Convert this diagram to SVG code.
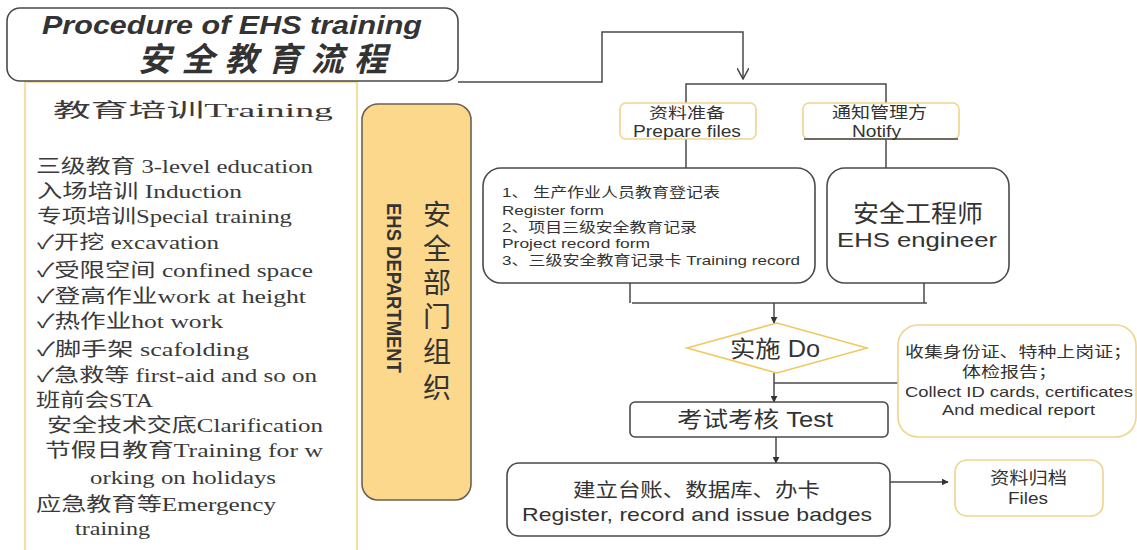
<svg xmlns="http://www.w3.org/2000/svg" width="1137" height="550" viewBox="0 0 1137 550">
<style>
.ln{fill:none;stroke:#4a4a4a;stroke-width:1.5}
.dk{fill:#fff;stroke:#4a4a4a;stroke-width:1.6}
.yl{fill:#fff;stroke:#f0d48a;stroke-width:1.6}
.sv{font-family:"Liberation Serif","Noto Sans CJK SC",serif;fill:#3a3a3a;font-size:19px}
.ss{font-family:"Liberation Sans","Noto Sans CJK SC",sans-serif;fill:#333}
</style>
<defs>
<marker id="ah" viewBox="0 0 10 10" refX="9" refY="5" markerWidth="7" markerHeight="7" orient="auto" markerUnits="userSpaceOnUse">
<path d="M0,0 L10,5 L0,10 z" fill="#333"/>
</marker>
<marker id="av" viewBox="0 0 12 12" refX="11" refY="6" markerWidth="12" markerHeight="12" orient="auto" markerUnits="userSpaceOnUse">
<path d="M0,0 L11,6 L0,12" fill="none" stroke="#444" stroke-width="1.5"/>
</marker>
</defs>
<rect width="1137" height="550" fill="#fff"/>

<g id="training-panel">
<rect x="25" y="82" width="332" height="480" fill="#fff" stroke="#f3e0a6" stroke-width="2.2"/>
<text class="sv" x="53" y="117" font-size="26" textLength="280" lengthAdjust="spacingAndGlyphs" fill="#444">教育培训Training</text>
<text class="sv" x="36" y="173" textLength="277" lengthAdjust="spacingAndGlyphs">三级教育 3-level education</text>
<text class="sv" x="37" y="198" textLength="205" lengthAdjust="spacingAndGlyphs">入场培训 Induction</text>
<text class="sv" x="37" y="223" textLength="255" lengthAdjust="spacingAndGlyphs">专项培训Special training</text>
<text class="sv" x="37" y="249" textLength="182" lengthAdjust="spacingAndGlyphs">✓开挖 excavation</text>
<text class="sv" x="37" y="277" textLength="276" lengthAdjust="spacingAndGlyphs">✓受限空间 confined space</text>
<text class="sv" x="37" y="303" textLength="269" lengthAdjust="spacingAndGlyphs">✓登高作业work at height</text>
<text class="sv" x="37" y="328" textLength="186" lengthAdjust="spacingAndGlyphs">✓热作业hot work</text>
<text class="sv" x="37" y="356" textLength="212" lengthAdjust="spacingAndGlyphs">✓脚手架 scafolding</text>
<text class="sv" x="37" y="382" textLength="280" lengthAdjust="spacingAndGlyphs">✓急救等 first-aid and so on</text>
<text class="sv" x="36" y="407" textLength="117" lengthAdjust="spacingAndGlyphs">班前会STA</text>
<text class="sv" x="47" y="432" textLength="276" lengthAdjust="spacingAndGlyphs">安全技术交底Clarification</text>
<text class="sv" x="45" y="457" textLength="278" lengthAdjust="spacingAndGlyphs">节假日教育Training for   w</text>
<text class="sv" x="90" y="484" textLength="186" lengthAdjust="spacingAndGlyphs">orking on holidays</text>
<text class="sv" x="36" y="511" textLength="240" lengthAdjust="spacingAndGlyphs">应急教育等Emergency</text>
<text class="sv" x="75" y="535" textLength="75" lengthAdjust="spacingAndGlyphs">training</text>
</g>

<g id="title">
<rect x="7" y="8" width="451" height="73" rx="13" class="dk"/>
<text class="ss" x="42" y="34" font-size="26" font-weight="bold" font-style="italic" fill="#111" textLength="380" lengthAdjust="spacingAndGlyphs">Procedure of EHS training</text>
<text class="ss" x="138" y="71" font-size="33" font-weight="bold" font-style="italic" fill="#111" textLength="249" lengthAdjust="spacing">安全教育流程</text>
</g>

<g id="ehs-dept">
<rect x="362" y="104" width="109" height="396" rx="16" fill="#fcd88c" stroke="#6b6150" stroke-width="1.6"/>
<text class="ss" font-size="28" fill="#222" text-anchor="middle" x="437" y="225">安<tspan x="437" dy="34">全</tspan><tspan x="437" dy="34">部</tspan><tspan x="437" dy="34">门</tspan><tspan x="437" dy="35">组</tspan><tspan x="437" dy="36">织</tspan></text>
<text class="ss" font-size="21" font-weight="bold" fill="#222" transform="translate(387,203) rotate(90)" textLength="170" lengthAdjust="spacingAndGlyphs">EHS DEPARTMENT</text>
</g>

<g id="connectors">
<polyline class="ln" points="458,82 602,82 602,32 743,32 743,79" marker-end="url(#av)"/>
<polyline class="ln" points="686,103 686,84 886,84 886,103"/>
<line class="ln" x1="686" y1="139" x2="686" y2="168"/>
<line class="ln" x1="886" y1="139" x2="886" y2="168"/>
<polyline class="ln" points="630,283 630,303"/>
<polyline class="ln" points="924,283 924,303"/>
<line class="ln" x1="632" y1="303" x2="927" y2="303"/>
<line class="ln" x1="774" y1="303" x2="774" y2="323" marker-end="url(#ah)"/>
<line class="ln" x1="774" y1="373" x2="774" y2="402" marker-end="url(#ah)"/>
<line class="ln" x1="774" y1="383" x2="898" y2="383"/>
<line class="ln" x1="776" y1="437" x2="776" y2="463" marker-end="url(#ah)"/>
<line class="ln" x1="890" y1="482" x2="948" y2="482" marker-end="url(#ah)"/>
</g>

<g id="prepare-files">
<rect x="620" y="103" width="136" height="36" rx="6" class="yl"/>
<text class="ss" x="649" y="118" font-size="15" fill="#444" textLength="76" lengthAdjust="spacingAndGlyphs">资料准备</text>
<text class="ss" x="633" y="137" font-size="16" fill="#444" textLength="108" lengthAdjust="spacingAndGlyphs">Prepare files</text>
</g>

<g id="notify">
<rect x="803" y="103" width="156" height="36" rx="6" class="yl"/>
<line x1="804" y1="139" x2="958" y2="139" stroke="#444" stroke-width="1.5"/>
<text class="ss" x="832" y="118" font-size="16" fill="#444" textLength="95" lengthAdjust="spacingAndGlyphs">通知管理方</text>
<text class="ss" x="852" y="137" font-size="16" fill="#444" textLength="49" lengthAdjust="spacingAndGlyphs">Notify</text>
</g>

<g id="records">
<rect x="483" y="168" width="332" height="115" rx="18" class="dk"/>
<text class="ss" x="502" y="197" font-size="13.5" textLength="218" lengthAdjust="spacingAndGlyphs">1、 生产作业人员教育登记表</text>
<text class="ss" x="502" y="215" font-size="13.5" textLength="102" lengthAdjust="spacingAndGlyphs">Register form</text>
<text class="ss" x="502" y="232" font-size="13.5" textLength="195" lengthAdjust="spacingAndGlyphs">2、项目三级安全教育记录</text>
<text class="ss" x="502" y="248" font-size="13.5" textLength="148" lengthAdjust="spacingAndGlyphs">Project record form</text>
<text class="ss" x="502" y="265" font-size="13.5" textLength="298" lengthAdjust="spacingAndGlyphs">3、三级安全教育记录卡 Training record</text>
</g>

<g id="ehs-engineer">
<rect x="827" y="168" width="182" height="115" rx="18" class="dk"/>
<text class="ss" x="853" y="222" font-size="24" fill="#222" textLength="130" lengthAdjust="spacingAndGlyphs">安全工程师</text>
<text class="ss" x="837" y="247" font-size="21" fill="#222" textLength="160" lengthAdjust="spacingAndGlyphs">EHS engineer</text>
</g>

<g id="do">
<polygon points="687,348 777,323 867,348 777,373" fill="#fff" stroke="#f0c860" stroke-width="1.6"/>
<text class="ss" x="730" y="357" font-size="23" fill="#222" textLength="90" lengthAdjust="spacingAndGlyphs">实施 Do</text>
</g>

<g id="collect">
<rect x="898" y="325" width="238" height="112" rx="20" class="yl"/>
<text class="ss" x="905" y="357" font-size="15" fill="#222" textLength="227" lengthAdjust="spacingAndGlyphs">收集身份证、特种上岗证；</text>
<text class="ss" x="962" y="377" font-size="15" fill="#222" textLength="95" lengthAdjust="spacingAndGlyphs">体检报告；</text>
<text class="ss" x="905" y="397" font-size="15" fill="#222" textLength="228" lengthAdjust="spacingAndGlyphs">Collect ID cards, certificates</text>
<text class="ss" x="942" y="415" font-size="15.5" fill="#222" textLength="153" lengthAdjust="spacingAndGlyphs">And medical report</text>
</g>

<g id="test">
<rect x="630" y="402" width="258" height="35" rx="5" class="dk"/>
<text class="ss" x="677" y="427" font-size="22" fill="#222" textLength="156" lengthAdjust="spacingAndGlyphs">考试考核 Test</text>
</g>

<g id="register">
<rect x="507" y="463" width="383" height="73" rx="12" class="dk"/>
<text class="ss" x="573" y="497" font-size="19" fill="#222" textLength="247" lengthAdjust="spacingAndGlyphs">建立台账、数据库、办卡</text>
<text class="ss" x="697" y="521" font-size="19" text-anchor="middle" fill="#222" textLength="350" lengthAdjust="spacingAndGlyphs">Register, record and issue badges</text>
</g>

<g id="files">
<rect x="955" y="460" width="148" height="56" rx="12" class="yl"/>
<text class="ss" x="990" y="484" font-size="17" fill="#333" textLength="77" lengthAdjust="spacingAndGlyphs">资料归档</text>
<text class="ss" x="1008" y="504" font-size="17" fill="#333" textLength="40" lengthAdjust="spacingAndGlyphs">Files</text>
</g>
</svg>
